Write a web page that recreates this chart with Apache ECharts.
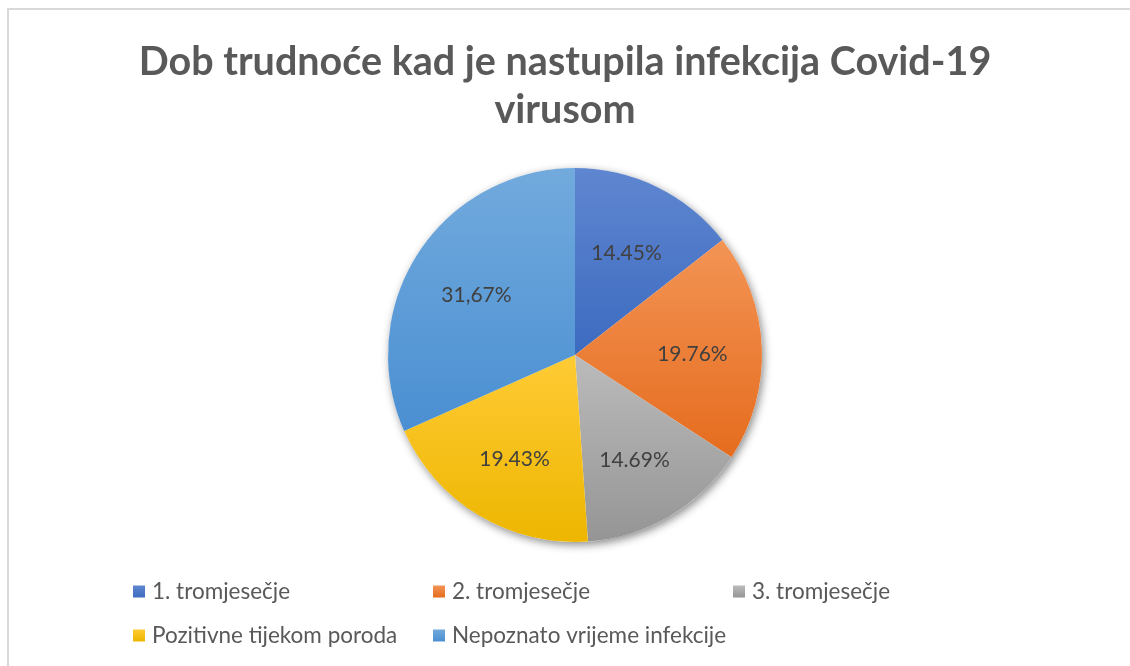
<!DOCTYPE html>
<html>
<head>
<meta charset="utf-8">
<title>Dob trudnoće</title>
<script src="https://cdn.jsdelivr.net/npm/echarts@6/dist/echarts.min.js"></script>
<style>
  html, body { margin: 0; padding: 0; background: #fff; }
  #chart { width: 1130px; height: 666px; }
</style>
</head>
<body>
<div id="chart"></div>
<script>
  var categories = ["1. tromjesečje", "2. tromjesečje", "3. tromjesečje", "Pozitivne tijekom poroda", "Nepoznato vrijeme infekcije"];
  var values = [14.45, 19.76, 14.69, 19.43, 31.67];
  var valueLabels = ["14.45%", "19.76%", "14.69%", "19.43%", "31,67%"];
  // gornja / donja boja gradijenta za svaki dio
  var topColors = ["#5F86D0", "#F39455", "#BBBBBB", "#FFCB35", "#72AADD"];
  var bottomColors = ["#3D6BC0", "#E56C1E", "#959595", "#EDB600", "#4A8FD2"];

  var font = "Lato";
  var cx = 575, cy = 355, R = 187;

  function grad(i) {
    return new echarts.graphic.LinearGradient(0, 0, 0, 1, [
      { offset: 0, color: topColors[i] },
      { offset: 1, color: bottomColors[i] }
    ]);
  }

  var pieData = categories.map(function (name, i) {
    return { name: name, value: values[i], itemStyle: { color: grad(i) } };
  });
  var labelData = categories.map(function (name, i) {
    return { name: name, value: values[i] };
  });

  // legenda - svaka stavka zasebno da bude poravnato kao u originalu
  var legendPos = [[133, 580], [433, 580], [733, 580], [133, 624], [433, 624]];
  var legends = categories.map(function (name, i) {
    return {
      data: [name],
      left: legendPos[i][0],
      top: legendPos[i][1],
      icon: "rect",
      itemWidth: 12,
      itemHeight: 12,
      itemGap: 0,
      selectedMode: false,
      padding: 0,
      textStyle: { color: "#595959", fontSize: 22.5, fontFamily: font, lineHeight: 22, padding: [0, 0, 0, 2] }
    };
  });

  var myChart = echarts.init(document.getElementById("chart"));
  var option = {
    animation: false,
    backgroundColor: "#fff",
    title: {
      text: "Dob trudnoće kad je nastupila infekcija Covid-19\nvirusom",
      left: "center",
      top: 33,
      textStyle: { color: "#595959", fontSize: 39.5, fontWeight: "bold", fontFamily: font, lineHeight: 48 }
    },
    legend: legends,
    graphic: [{
      type: "rect",
      shape: { x: 8, y: 9, width: 1200, height: 800 },
      style: { fill: "none", stroke: "#D9D9D9", lineWidth: 2 },
      silent: true
    }],
    series: [
      {
        // sjena ispod cijelog kruga
        type: "pie",
        center: [cx, cy],
        radius: [0, R],
        silent: true,
        label: { show: false },
        labelLine: { show: false },
        itemStyle: { color: "#fff", shadowBlur: 9, shadowColor: "rgba(0,0,0,0.45)", shadowOffsetX: 2, shadowOffsetY: 3 },
        data: [{ name: "_bg", value: 1 }]
      },
      {
        type: "pie",
        center: [cx, cy],
        radius: [0, R],
        startAngle: 90,
        clockwise: true,
        label: { show: false },
        labelLine: { show: false },
        itemStyle: { borderWidth: 0 },
        data: pieData
      },
      {
        // samo natpisi, malo dalje od sredine
        type: "pie",
        center: [cx, cy],
        radius: [42, R],
        startAngle: 90,
        clockwise: true,
        silent: true,
        itemStyle: { color: "rgba(0,0,0,0)" },
        label: {
          show: true,
          position: "inside",
          color: "#404040",
          fontSize: 21,
          fontFamily: font,
          offset: [0, 4],
          formatter: function (p) { return valueLabels[p.dataIndex]; }
        },
        labelLine: { show: false },
        data: labelData
      }
    ]
  };
  myChart.setOption(option);
</script>
</body>
</html>
